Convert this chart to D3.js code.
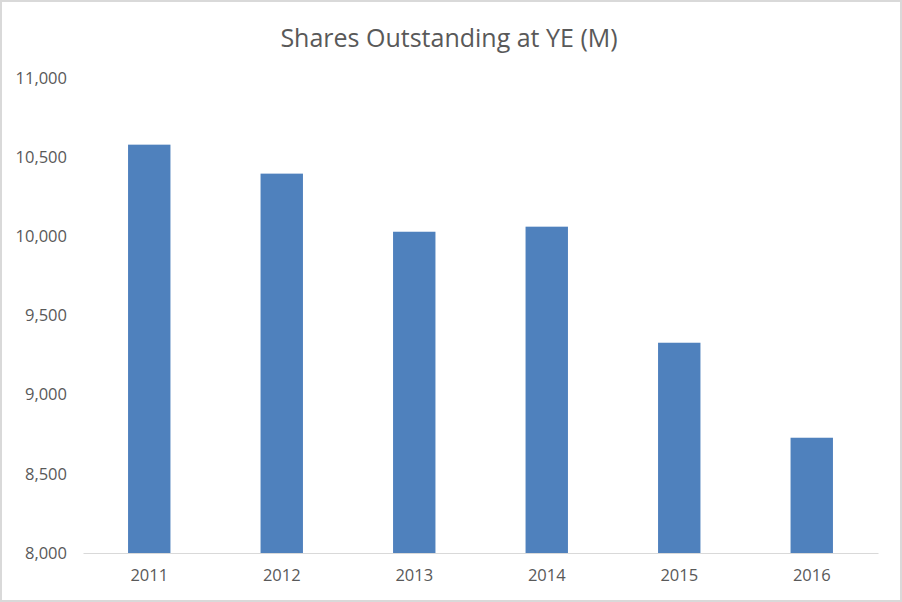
<!DOCTYPE html>
<html>
<head>
<meta charset="utf-8">
<script src="https://cdn.jsdelivr.net/npm/d3@7"></script>
<style>
  body { margin: 0; background: #fff; }
  svg { display: block; }
</style>
</head>
<body>
<svg width="902" height="602"></svg>
<script>
const svg = d3.select('svg')

// data
const years = ['2011', '2012', '2013', '2014', '2015', '2016'];
const shares = [10579, 10396, 10029, 10061, 9328, 8728];
const yTicks = [8000, 8500, 9000, 9500, 10000, 10500, 11000];

const width = 902, height = 602;
const margin = {top: 78, right: 24, bottom: 49, left: 83};
const textColor = '#595959';
const font = '"Open Sans", "Noto Sans", sans-serif';

// outer border
svg.append('rect')
  .attr('x', 1).attr('y', 1)
  .attr('width', width - 2).attr('height', height - 2)
  .attr('fill', '#fff')
  .attr('stroke', '#d9d9d9')
  .attr('stroke-width', 2)

// title
svg.append('text')
  .attr('x', 449).attr('y', 47)
  .attr('text-anchor', 'middle')
  .attr('fill', textColor)
  .style('font-family', font)
  .style('font-size', '25px')
  .text('Shares Outstanding at YE (M)')

let x = d3.scaleBand()
  .domain(years)
  .range([margin.left, width - margin.right])
  .paddingInner(0.68)
  .paddingOuter(0.34);

let y = d3.scaleLinear()
  .domain([8000, 11000])
  .range([height - margin.bottom, margin.top]);

// bars
svg.append('g')
  .selectAll('rect')
  .data(shares)
  .enter().append('rect')
    .attr('x', (d, i) => x(years[i]))
    .attr('y', d => y(d))
    .attr('width', x.bandwidth())
    .attr('height', d => y(8000) - y(d))
    .attr('fill', '#4f81bd')

// y axis (labels only)
let yAxis = svg.append('g')
  .attr('transform', 'translate(' + (margin.left - 16) + ',0)')
  .call(d3.axisLeft(y).tickValues(yTicks).tickFormat(d3.format(',')).tickSize(0).tickPadding(0))
yAxis.select('.domain').remove()
yAxis.selectAll('text')
  .attr('fill', textColor)
  .style('font-family', font)
  .style('font-size', '16.5px')

// x axis
let xAxis = svg.append('g')
  .attr('transform', 'translate(0,' + y(8000) + ')')
  .call(d3.axisBottom(x).tickSize(0).tickPadding(16))
xAxis.select('.domain')
  .attr('stroke', '#d9d9d9')
  .attr('stroke-width', 1)
xAxis.selectAll('text')
  .attr('fill', textColor)
  .style('font-family', font)
  .style('font-size', '16.5px')
</script>
</body>
</html>
